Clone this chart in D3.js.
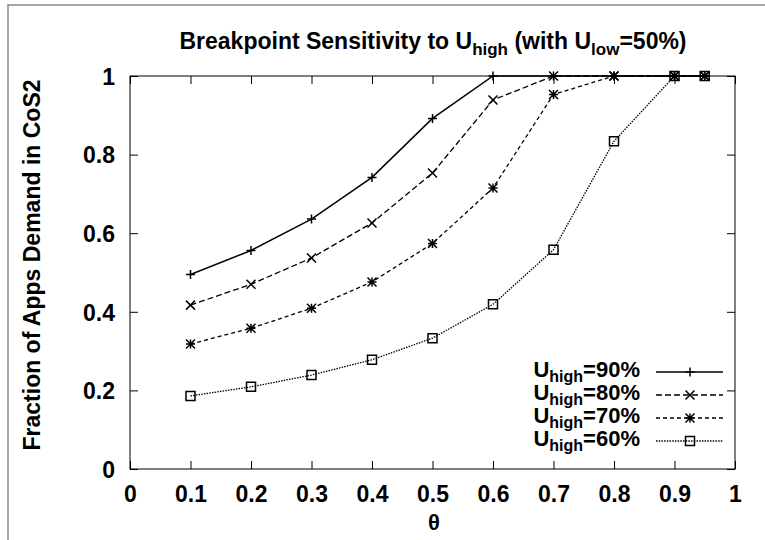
<!DOCTYPE html>
<html><head><meta charset="utf-8">
<script src="https://cdn.jsdelivr.net/npm/d3@7"></script>
<style>body{margin:0;background:#fff}svg{display:block}text{font-family:"Liberation Sans",Arial,sans-serif;font-weight:bold;fill:#000}</style>
</head><body>
<svg id="c" width="765" height="540"></svg>
<script>
const theta = [0.1,0.2,0.3,0.4,0.5,0.6,0.7,0.8,0.9,0.95];
const u90 = [0.495,0.556,0.636,0.742,0.892,1,1,1,1,1];
const u80 = [0.417,0.470,0.537,0.626,0.753,0.939,1,1,1,1];
const u70 = [0.318,0.358,0.409,0.476,0.574,0.715,0.953,1,1,1];
const u60 = [0.186,0.209,0.239,0.278,0.333,0.419,0.558,0.834,1,1];
const seriesNames = ["90%","80%","70%","60%"];
const xTicks = [0,0.1,0.2,0.3,0.4,0.5,0.6,0.7,0.8,0.9,1];
const yTicks = [0,0.2,0.4,0.6,0.8,1];

const svg = d3.select("#c");
const L=130,R=735,T=76,B=469;
const x = d3.scaleLinear().domain([0,1]).range([L,R]);
const y = d3.scaleLinear().domain([0,1]).range([B,T]);

// outer gray frame
svg.append("path").attr("d","M8,540V5H765").attr("fill","none").attr("stroke","#8a8a8a").attr("stroke-width",1.5);

// plot border
svg.append("rect").attr("x",L).attr("y",T).attr("width",R-L).attr("height",B-T)
  .attr("fill","none").attr("stroke","#000").attr("stroke-width",1);

const fmt = d=> d===0?"0":d===1?"1":d3.format(".1f")(d);
const gx = svg.append("g").attr("transform",`translate(0,${B})`)
  .call(d3.axisBottom(x).tickValues(xTicks).tickSize(-8).tickPadding(17).tickFormat(fmt));
const gxt = svg.append("g").attr("transform",`translate(0,${T})`)
  .call(d3.axisTop(x).tickValues(xTicks).tickSize(-8).tickFormat(""));
const gy = svg.append("g").attr("transform",`translate(${L},0)`)
  .call(d3.axisLeft(y).tickValues(yTicks).tickSize(-8).tickPadding(15).tickFormat(fmt));
const gyr = svg.append("g").attr("transform",`translate(${R},0)`)
  .call(d3.axisRight(y).tickValues(yTicks).tickSize(-8).tickFormat(""));
[gx,gxt,gy,gyr].forEach(g=>{
  g.select(".domain").remove();
  g.selectAll("line").attr("stroke","#000");
  g.selectAll("text").style("font-size","23px").style("font-family",'"Liberation Sans",Arial,sans-serif').style("font-weight","bold").attr("fill","#000");
});
gx.selectAll("text").attr("dy","0.71em");
gy.selectAll("text").attr("dy","0.36em");

// titles
const title = svg.append("text").attr("x",433).attr("y",49).attr("text-anchor","middle").style("font-size","23px");
title.append("tspan").text("Breakpoint Sensitivity to U");
title.append("tspan").text("high").style("font-size","17px").attr("dy",6);
title.append("tspan").text(" (with U").attr("dy",-6);
title.append("tspan").text("low").style("font-size","17px").attr("dy",6);
title.append("tspan").text("=50%)").attr("dy",-6);

svg.append("text").attr("x",434).attr("y",530).attr("text-anchor","middle").style("font-size","22px").text("θ");
svg.append("text").attr("transform","translate(40,265) rotate(-90)").attr("text-anchor","middle").style("font-size","23px").text("Fraction of Apps Demand in CoS2");

// series
const styles = [
  {data:u90, dash:null, marker:"plus"},
  {data:u80, dash:"6,3", marker:"cross"},
  {data:u70, dash:"4,3", marker:"star"},
  {data:u60, dash:"1.5,1.2", marker:"square"}
];
const s=4.5;
function marker(g,type,cx,cy){
  const p = d3.path();
  if(type==="plus"||type==="star"){p.moveTo(cx-s,cy);p.lineTo(cx+s,cy);p.moveTo(cx,cy-s);p.lineTo(cx,cy+s);}
  if(type==="cross"||type==="star"){p.moveTo(cx-s,cy-s);p.lineTo(cx+s,cy+s);p.moveTo(cx-s,cy+s);p.lineTo(cx+s,cy-s);}
  if(type==="square"){p.rect(cx-s,cy-s,2*s,2*s);}
  g.append("path").attr("d",p.toString()).attr("fill","none").attr("stroke","#000").attr("stroke-width",1.5);
}
const line = d3.line().x(d=>x(d[0])).y(d=>y(d[1]));
styles.forEach(st=>{
  const pts = theta.map((t,i)=>[t,st.data[i]]);
  svg.append("path").attr("d",line(pts)).attr("fill","none").attr("stroke","#000")
    .attr("stroke-width",st.dash?1.3:1.5).attr("stroke-dasharray",st.dash);
  const g = svg.append("g");
  pts.forEach(p=>marker(g,st.marker,x(p[0]),y(p[1])));
});

// legend
const rows=[372,395,418,441];
styles.forEach((st,i)=>{
  const ry=rows[i];
  const t = svg.append("text").attr("x",640).attr("y",ry+5).attr("text-anchor","end").style("font-size","21px");
  t.append("tspan").text("U").style("font-size","22px");
  t.append("tspan").text("high").style("font-size","16px").attr("dy",5);
  t.append("tspan").text("="+seriesNames[i]).style("font-size","22px").attr("dy",-5);
  svg.append("line").attr("x1",656).attr("x2",723).attr("y1",ry).attr("y2",ry).attr("stroke","#000")
    .attr("stroke-width",st.dash?1.3:1.5).attr("stroke-dasharray",st.dash);
  marker(svg.append("g"),st.marker,690,ry);
});
</script>
</body></html>
